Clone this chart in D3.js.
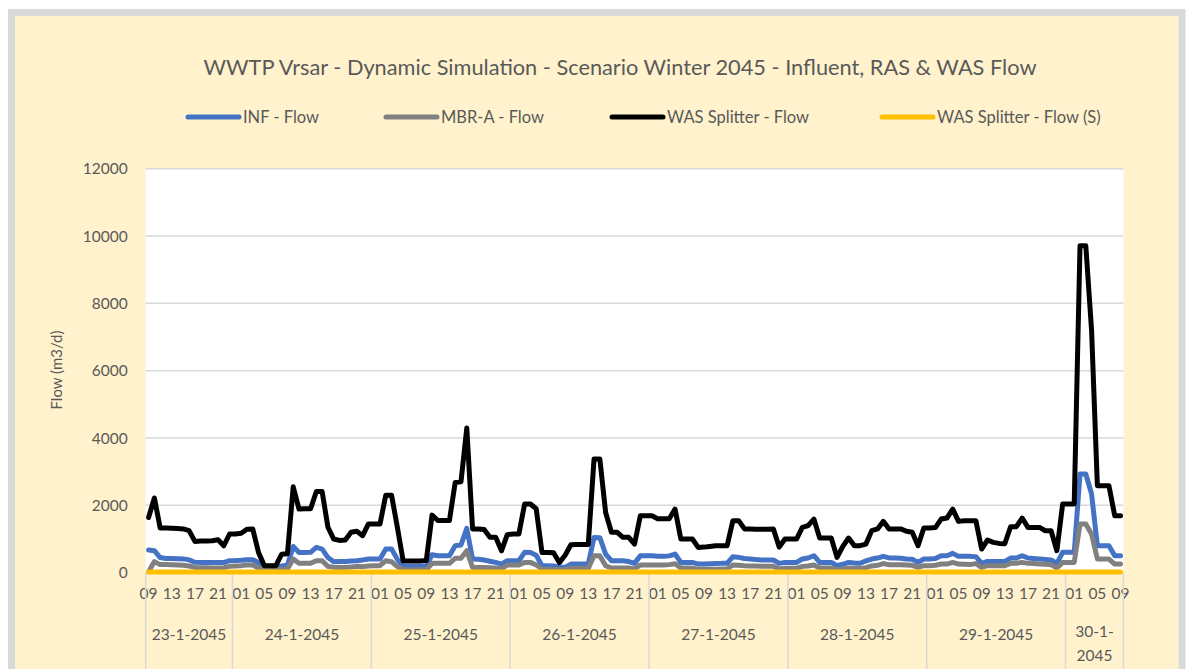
<!DOCTYPE html>
<html>
<head>
<meta charset="utf-8">
<script src="https://cdn.jsdelivr.net/npm/d3@7"></script>
<style>
  body { margin: 0; background: #ffffff; }
  svg text { font-family: Lato, "Open Sans", sans-serif; fill: #595959; }
</style>
</head>
<body>
<svg id="chart_svg" width="1192" height="669"></svg>
<script>
// ---- data (hourly, 23-1-2045 09:00 .. 30-1-2045 09:00) ----
const days = ["23-1-2045", "24-1-2045", "25-1-2045", "26-1-2045", "27-1-2045", "28-1-2045", "29-1-2045", "30-1-2045"]
const dayFirstHour = [9, 0, 0, 0, 0, 0, 0, 0]
const dayLastHour = [23, 23, 23, 23, 23, 23, 23, 9]

const yTicks = [0, 2000, 4000, 6000, 8000, 10000, 12000]

const seriesNames = ["INF - Flow", "MBR-A - Flow", "WAS Splitter - Flow", "WAS Splitter - Flow (S)"]
const seriesColors = ["#4472C4", "#808080", "#000000", "#FFC000"]

const infFlow = [
  674, 653, 450, 420, 420, 415, 410, 380, 310, 306,
  306, 306, 306, 300, 356, 360, 370, 386, 386, 300,
  190, 190, 190, 200, 220, 780, 600, 600, 604, 752,
  703, 450, 327, 330, 330, 350, 356, 380, 406, 406,
  406, 703, 703, 400, 188, 188, 188, 188, 188, 535,
  505, 505, 505, 802, 822, 1316, 406, 400, 376, 340,
  306, 257, 356, 356, 356, 604, 598, 520, 208, 208,
  200, 170, 158, 257, 257, 257, 260, 1049, 1040, 555,
  356, 356, 356, 330, 277, 505, 505, 500, 490, 485,
  500, 555, 306, 306, 306, 257, 260, 265, 270, 277,
  277, 475, 455, 420, 406, 390, 380, 376, 376, 277,
  306, 306, 306, 406, 435, 505, 306, 306, 306, 208,
  250, 306, 290, 280, 350, 406, 435, 485, 440, 435,
  430, 406, 400, 306, 406, 406, 420, 505, 505, 574,
  485, 485, 485, 475, 277, 336, 336, 336, 336, 435,
  435, 505, 435, 420, 406, 390, 376, 277, 604, 604,
  604, 2931, 2931, 2337, 802, 802, 802, 505, 505
]

const mbrFlow = [
  30, 330, 240, 240, 235, 230, 220, 200, 158, 150,
  145, 140, 139, 150, 188, 200, 210, 228, 228, 139,
  89, 89, 89, 100, 110, 406, 277, 277, 280, 356,
  356, 188, 160, 158, 158, 170, 188, 180, 200, 208,
  208, 356, 327, 180, 89, 89, 89, 89, 89, 277,
  277, 277, 277, 426, 426, 653, 158, 158, 158, 150,
  139, 109, 228, 228, 228, 306, 306, 228, 109, 100,
  95, 89, 89, 129, 129, 129, 129, 505, 500, 208,
  139, 139, 139, 139, 109, 228, 228, 228, 228, 228,
  240, 267, 139, 139, 130, 99, 100, 100, 105, 109,
  109, 228, 220, 208, 200, 200, 195, 190, 188, 109,
  129, 129, 129, 188, 200, 228, 139, 139, 139, 89,
  110, 129, 129, 129, 150, 200, 220, 270, 238, 238,
  238, 230, 220, 158, 208, 208, 220, 257, 257, 306,
  257, 250, 240, 270, 158, 208, 208, 208, 208, 277,
  280, 306, 277, 270, 260, 250, 238, 139, 306, 306,
  306, 1446, 1446, 1148, 406, 406, 406, 257, 257
]

const wasFlow = [
  1640, 2220, 1330, 1330, 1320, 1310, 1300, 1250, 930, 940,
  940, 950, 980, 800, 1150, 1150, 1170, 1290, 1300, 600,
  210, 210, 210, 550, 560, 2550, 1890, 1900, 1900, 2410,
  2410, 1350, 1000, 960, 970, 1200, 1230, 1100, 1450, 1450,
  1450, 2300, 2300, 1350, 350, 350, 350, 350, 360, 1710,
  1550, 1550, 1550, 2680, 2700, 4300, 1300, 1300, 1280, 1050,
  1050, 650, 1130, 1150, 1150, 2040, 2040, 1900, 600, 600,
  590, 300, 520, 830, 840, 840, 840, 3380, 3380, 1790,
  1200, 1200, 1050, 1050, 850, 1690, 1690, 1690, 1600, 1600,
  1600, 1890, 1000, 1000, 1000, 752, 760, 780, 800, 800,
  800, 1545, 1545, 1300, 1300, 1290, 1290, 1290, 1300, 760,
  1000, 1000, 1000, 1346, 1400, 1594, 1030, 1030, 1030, 455,
  780, 1030, 802, 802, 850, 1250, 1300, 1524, 1300, 1300,
  1300, 1230, 1200, 802, 1327, 1327, 1340, 1594, 1624, 1891,
  1524, 1545, 1545, 1545, 703, 970, 900, 870, 860, 1366,
  1366, 1624, 1346, 1346, 1346, 1247, 1247, 653, 2040, 2040,
  2040, 9712, 9712, 7200, 2584, 2584, 2584, 1693, 1693
]

const wasFlowS = [
  20, 20, 20, 20, 20, 20, 20, 20, 20, 20,
  20, 20, 20, 20, 20, 20, 20, 20, 20, 20,
  20, 20, 20, 20, 20, 20, 20, 20, 20, 20,
  20, 20, 20, 20, 20, 20, 20, 20, 20, 20,
  20, 20, 20, 20, 20, 20, 20, 20, 20, 20,
  20, 20, 20, 20, 20, 20, 20, 20, 20, 20,
  20, 20, 20, 20, 20, 20, 20, 20, 20, 20,
  20, 20, 20, 20, 20, 20, 20, 20, 20, 20,
  20, 20, 20, 20, 20, 20, 20, 20, 20, 20,
  20, 20, 20, 20, 20, 20, 20, 20, 20, 20,
  20, 20, 20, 20, 20, 20, 20, 20, 20, 20,
  20, 20, 20, 20, 20, 20, 20, 20, 20, 20,
  20, 20, 20, 20, 20, 20, 20, 20, 20, 20,
  20, 20, 20, 20, 20, 20, 20, 20, 20, 20,
  20, 20, 20, 20, 20, 20, 20, 20, 20, 20,
  20, 20, 20, 20, 20, 20, 20, 20, 20, 20,
  20, 20, 20, 20, 20, 20, 20, 20, 20
]

const allSeries = [infFlow, mbrFlow, wasFlow, wasFlowS]

// ---- categories: one per hour ----
let categories = []
days.forEach((d, di) => {
  for (let h = dayFirstHour[di]; h <= dayLastHour[di]; h++) {
    categories.push({ day: d, dayIndex: di, hour: h, label: String(h).padStart(2, "0") })
  }
})
categories.forEach((c, i) => c.i = i)

/**
 * Layout
 */
const margin = { top: 168.7, bottom: 96.3, left: 145.7, right: 68.6 }
const svg = d3.select("#chart_svg")
const width = +svg.attr("width")
const height = +svg.attr("height")

// outer chart area
svg.append("rect")
  .attr("x", 11.5).attr("y", 12.5)
  .attr("width", 1170.5).attr("height", 700)
  .attr("fill", "#FFF2CC")
  .attr("stroke", "#D9D9D9")
  .attr("stroke-width", 7)

const xScale = d3.scaleBand()
  .domain(categories.map(c => c.i))
  .range([margin.left, width - margin.right])
  .padding(0)

const yScale = d3.scaleLinear()
  .domain([0, 12000])
  .range([height - margin.bottom, margin.top])

const xc = i => xScale(i) + xScale.bandwidth() / 2

// plot area
svg.append("rect")
  .attr("x", margin.left).attr("y", margin.top)
  .attr("width", width - margin.left - margin.right)
  .attr("height", height - margin.top - margin.bottom)
  .attr("fill", "#ffffff")

// grid lines
svg.append("g").selectAll("line")
  .data(yTicks)
  .enter().append("line")
  .attr("x1", margin.left).attr("x2", width - margin.right)
  .attr("y1", d => yScale(d)).attr("y2", d => yScale(d))
  .attr("stroke", "#D9D9D9").attr("stroke-width", 1.5)

// y axis
let y_axis = d3.axisLeft(yScale).tickValues(yTicks).tickFormat(d3.format("d")).tickSize(0).tickPadding(18)
let g_y = svg.append("g")
  .attr("transform", "translate(" + margin.left + ",0)")
  .call(y_axis)
g_y.select(".domain").remove()
g_y.selectAll("text").attr("font-size", 15.5).style("font-family", null).attr("fill", "#595959")

// x axis: hour labels
let x_axis = d3.axisBottom(xScale)
  .tickValues(categories.filter(c => c.i % 4 === 0).map(c => c.i))
  .tickFormat(i => categories[i].label)
  .tickSize(0).tickPadding(15)
let g_x = svg.append("g")
  .attr("transform", "translate(0," + (height - margin.bottom) + ")")
  .call(x_axis)
g_x.select(".domain").attr("stroke", "#D9D9D9").attr("stroke-width", 1.5)
g_x.selectAll("text").attr("font-size", 15.5).style("font-family", null).attr("fill", "#595959")

// day separators + day labels
let dayBounds = days.map((d, di) => {
  let idx = categories.filter(c => c.dayIndex === di).map(c => c.i)
  return { day: d, x0: xScale(idx[0]), x1: xScale(idx[idx.length - 1]) + xScale.bandwidth() }
})
let sepX = [dayBounds[0].x0].concat(dayBounds.map(b => b.x1))
svg.append("g").selectAll("line")
  .data(sepX)
  .enter().append("line")
  .attr("x1", d => d).attr("x2", d => d)
  .attr("y1", height - margin.bottom).attr("y2", height)
  .attr("stroke", "#D9D9D9").attr("stroke-width", 1.5)

let dayLabels = svg.append("g").selectAll("text")
  .data(dayBounds)
  .enter().append("text")
  .attr("x", d => (d.x0 + d.x1) / 2)
  .attr("y", 639.5)
  .attr("text-anchor", "middle")
  .attr("font-size", 15.5)
dayLabels.each(function (d) {
  let t = d3.select(this)
  if (d.x1 - d.x0 < 80) {
    let parts = d.day.split("-")
    t.attr("y", 637)
    t.append("tspan").attr("x", (d.x0 + d.x1) / 2).text(parts[0] + "-" + parts[1] + "-")
    t.append("tspan").attr("x", (d.x0 + d.x1) / 2).attr("dy", 24).text(parts[2])
  } else {
    t.text(d.day)
  }
})

// series lines
let line = d3.line()
  .x((d, i) => xc(i))
  .y(d => yScale(d))

svg.append("g").selectAll("path")
  .data(allSeries)
  .enter().append("path")
  .attr("d", d => line(d))
  .attr("fill", "none")
  .attr("stroke", (d, i) => seriesColors[i])
  .attr("stroke-width", 5)
  .attr("stroke-linejoin", "round")
  .attr("stroke-linecap", "round")

// title
svg.append("text")
  .attr("x", 620).attr("y", 75)
  .attr("text-anchor", "middle")
  .attr("font-size", 21)
  .attr("textLength", 833)
  .attr("lengthAdjust", "spacingAndGlyphs")
  .text("WWTP Vrsar - Dynamic Simulation - Scenario Winter 2045 - Influent, RAS & WAS Flow")

// y axis label
svg.append("text")
  .attr("transform", "translate(62,370) rotate(-90)")
  .attr("text-anchor", "middle")
  .attr("font-size", 15)
  .text("Flow (m3/d)")

// legend
const legendX = [186, 384, 610, 880]
let legend = svg.append("g").selectAll("g")
  .data(seriesNames)
  .enter().append("g")
  .attr("transform", (d, i) => "translate(" + legendX[i] + ",117)")
legend.append("line")
  .attr("x1", 2).attr("x2", 53)
  .attr("stroke", (d, i) => seriesColors[i])
  .attr("stroke-width", 5)
  .attr("stroke-linecap", "round")
legend.append("text")
  .attr("x", 57).attr("y", 5.5)
  .attr("font-size", 16.5)
  .text(d => d)
</script>
</body>
</html>
